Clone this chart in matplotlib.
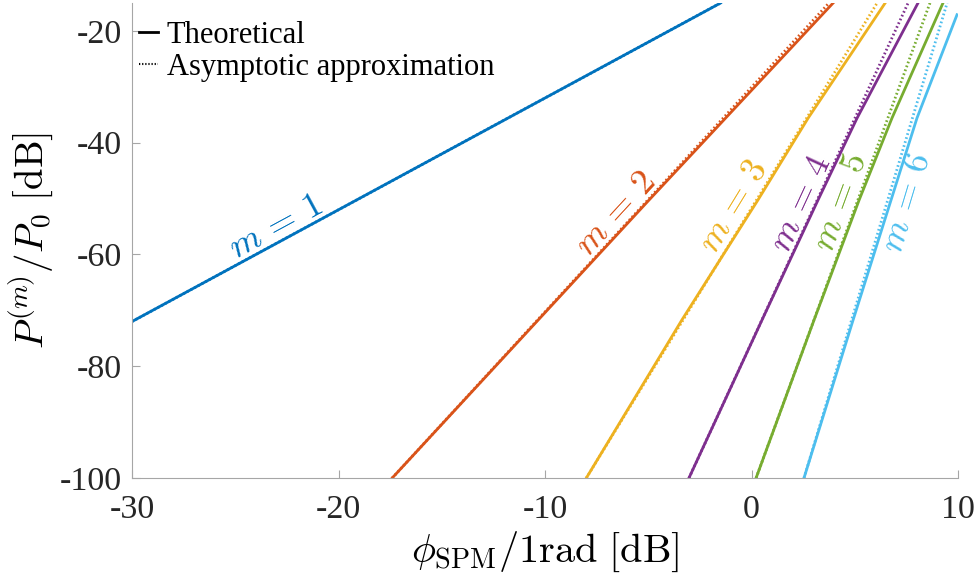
import matplotlib
matplotlib.use("Agg")
import matplotlib.pyplot as plt
import numpy as np
from matplotlib.lines import Line2D

COLORS = ["#0072BD", "#D95319", "#EDB120", "#7E2F8E", "#77AC30", "#4DBEEE"]
AXIS_GREY = "#a6a6a6"

# theoretical curves
theo_x = [
    [-30.0, -20.0, -1.5],
    [-17.4, -5.0, 3.95],
    [-8.0, -3.37, 0.31, 2.74, 6.47],
    [-3.03, 0.51, 3.22, 5.11, 8.06],
    [0.22, 3.03, 5.21, 6.80, 9.27],
    [2.54, 4.92, 8.01, 9.95],
]
theo_y = [
    [-72.0, -52.0, -15.0],
    [-100.0, -50.4, -15.0],
    [-100.0, -71.7, -50.25, -35.6, -15.0],
    [-100.0, -71.7, -50.25, -35.6, -15.0],
    [-100.0, -71.7, -50.25, -35.6, -15.0],
    [-100.0, -71.7, -35.6, -17.1],
]

# asymptotic approximation (straight lines)
asym_x = [
    [-30.0, -1.5],
    [-17.4, 3.75],
    [-8.0, 6.08],
    [-3.03, 7.58],
    [0.22, 8.64],
    [2.54, 9.47],
]
asym_y = [
    [-72.0, -15.0],
    [-100.0, -15.0],
    [-100.0, -15.0],
    [-100.0, -15.0],
    [-100.0, -15.0],
    [-100.0, -15.0],
]

orders = [1, 2, 3, 4, 5, 6]
label_pos = [(-23.0, -55.3), (-6.56, -52.9), (-0.80, -51.5),
             (2.45, -51.0), (4.38, -50.8), (7.58, -50.8)]

plt.rcParams.update({
    "font.family": "Liberation Serif",
    "mathtext.fontset": "cm",
    "axes.unicode_minus": False,
})

fig = plt.figure(figsize=(9.78, 5.77), dpi=100)
ax = fig.add_axes([0.135, 0.1716, 0.8446, 0.8232])

for i, m in enumerate(orders):
    ax.plot(asym_x[i], asym_y[i], color=COLORS[i], linewidth=2.0,
            linestyle=(0, (0.6, 0.9)), solid_capstyle="butt")
    ax.plot(theo_x[i], theo_y[i], color=COLORS[i], linewidth=2.0)

ax.set_xlim(-30, 10)
ax.set_ylim(-100, -15)

for i, m in enumerate(orders):
    slope = (asym_y[i][1] - asym_y[i][0]) / (asym_x[i][1] - asym_x[i][0])
    ang = np.degrees(np.arctan(slope))
    ax.text(label_pos[i][0], label_pos[i][1], rf"$m\,=\,{m}$", color=COLORS[i],
            fontsize=26, rotation=ang, rotation_mode="anchor",
            transform_rotates_text=True, ha="center", va="center")

ax.set_xticks([-30, -20, -10, 0, 10])
ax.set_yticks([-100, -80, -60, -40, -20])
ax.tick_params(direction="in", length=6, width=0.8, color=AXIS_GREY,
               labelsize=24.5, labelcolor="#262626")
ax.tick_params(axis="x", pad=12)
ax.tick_params(axis="y", pad=7)
for side in ("top", "right"):
    ax.spines[side].set_visible(False)
for side in ("left", "bottom"):
    ax.spines[side].set_color(AXIS_GREY)
    ax.spines[side].set_linewidth(0.8)

ax.set_xlabel(r"$\phi_{\mathrm{SPM}}/1\mathrm{rad}\ [\mathrm{dB}]$", fontsize=29,
              labelpad=3)
ax.set_ylabel(r"$P^{(m)}/P_0\ [\mathrm{dB}]$", fontsize=28, labelpad=4)

handles = [Line2D([], [], color="black", linewidth=2.0),
           Line2D([], [], color="black", linewidth=1.5, linestyle=(0, (0.6, 0.9)))]
ax.legend(handles, ["Theoretical", "Asymptotic approximation"], loc="upper left",
          bbox_to_anchor=(0.009, 0.962), frameon=False, fontsize=22,
          handlelength=0.6, handletextpad=0.3, labelspacing=0.1,
          borderaxespad=0.0, borderpad=0.0)

fig.savefig("out.png", dpi=100)
